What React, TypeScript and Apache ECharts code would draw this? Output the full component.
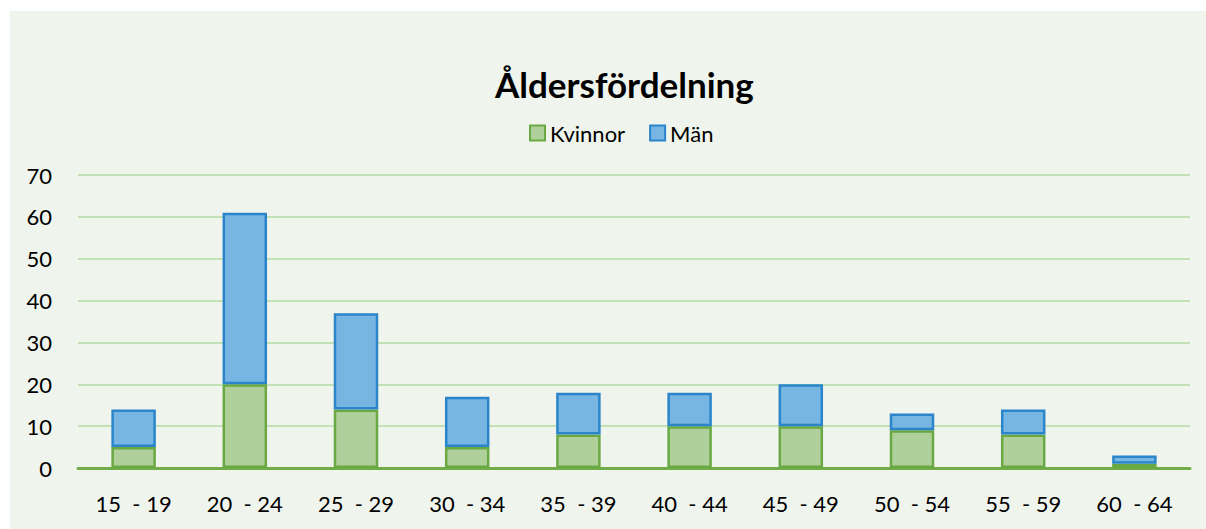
import React, { useEffect, useRef } from "react";
import * as echarts from "echarts";

const categories = ["15  - 19", "20  - 24", "25  - 29", "30  - 34", "35  - 39", "40  - 44", "45  - 49", "50  - 54", "55  - 59", "60  - 64"];
const kvinnor = [5, 20, 14, 5, 8, 10, 10, 9, 8, 1];
const man = [9, 41, 23, 12, 10, 8, 10, 4, 6, 2];
const titleText = "Åldersfördelning";
const seriesNames = ["Kvinnor", "Män"];

export default function App() {
  const ref = useRef<HTMLDivElement>(null);
  useEffect(() => {
    document.body.style.margin = "0";
    const chart = echarts.init(ref.current!, null, { renderer: "svg" });
    const font = "Lato, 'Open Sans', sans-serif";
    chart.setOption({
      animation: false,
      backgroundColor: "#ffffff",
      textStyle: { fontFamily: font },
      graphic: [
        {
          type: "rect",
          z: -10,
          silent: true,
          shape: { x: 10, y: 11, width: 1196, height: 518 },
          style: { fill: "#eff4ed" },
        },
      ],
      title: {
        text: titleText,
        left: 490,
        top: 61,
        textStyle: { fontFamily: font, fontSize: 35, fontWeight: "bold", color: "#000" },
      },
      legend: {
        top: 117,
        left: 524,
        icon: "rect",
        itemWidth: 15,
        itemHeight: 15,
        itemGap: 24,
        textStyle: { fontFamily: font, fontSize: 22, color: "#000" },
        data: seriesNames,
      },
      grid: { left: 78, right: 16, top: 175, bottom: 61, containLabel: false },
      xAxis: {
        type: "category",
        data: categories,
        axisLine: { lineStyle: { color: "#70ad47", width: 3 } },
        axisTick: { show: false },
        axisLabel: { fontFamily: font, fontSize: 22, color: "#000", margin: 24 },
      },
      yAxis: {
        type: "value",
        min: 0,
        max: 70,
        interval: 10,
        axisLine: { show: false },
        axisTick: { show: false },
        splitLine: { lineStyle: { color: "#b3dba3", width: 1.5 } },
        axisLabel: { fontFamily: font, fontSize: 22, color: "#000", margin: 26 },
      },
      series: [
        {
          name: seriesNames[0],
          type: "bar",
          stack: "total",
          data: kvinnor,
          barWidth: "40%",
          itemStyle: { color: "#afd09a", borderColor: "#6aa843", borderWidth: 2.5 },
        },
        {
          name: seriesNames[1],
          type: "bar",
          stack: "total",
          data: man,
          barWidth: "40%",
          itemStyle: { color: "#77b5e3", borderColor: "#2a85cb", borderWidth: 2.5 },
        },
      ],
    });
    return () => chart.dispose();
  }, []);
  return <div ref={ref} style={{ width: 1206, height: 529 }} />;
}
